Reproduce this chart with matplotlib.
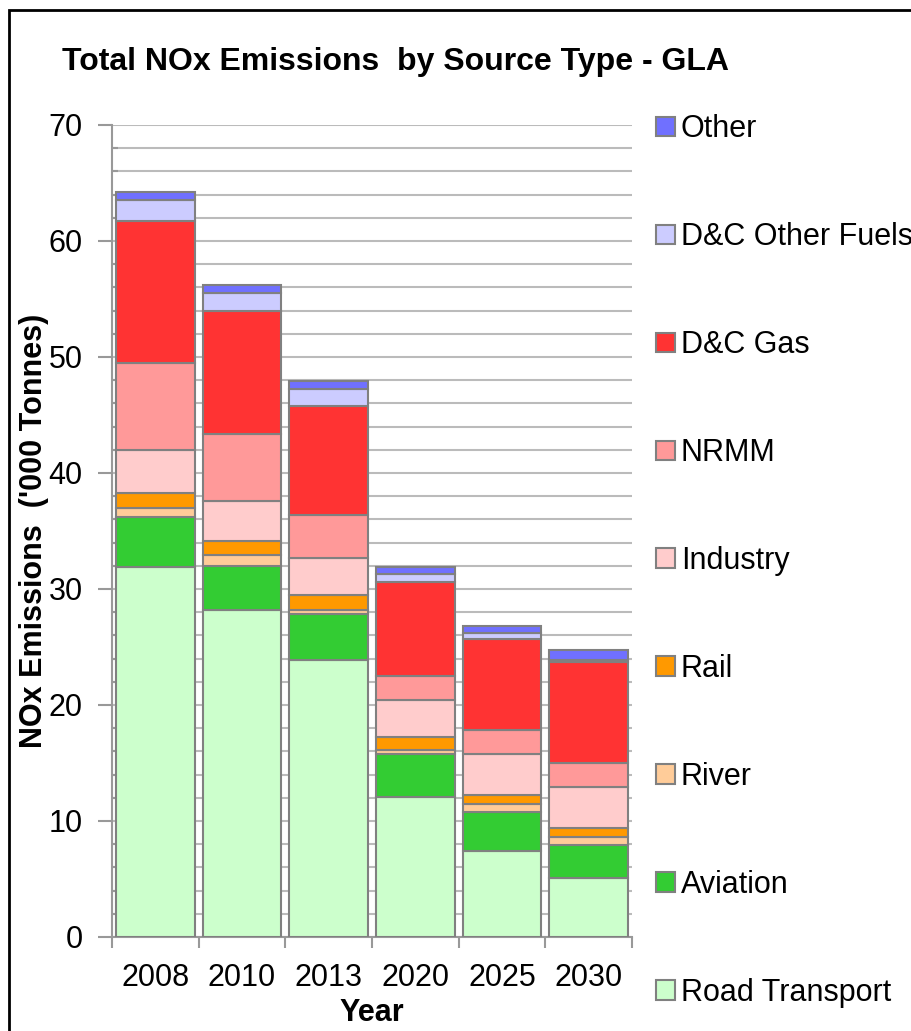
import numpy as np
import matplotlib
matplotlib.use('Agg')
import matplotlib.pyplot as plt
from matplotlib.patches import Rectangle

plt.rcParams['font.family'] = ['Liberation Sans', 'DejaVu Sans']

# data ('000 tonnes)
years = ['2008', '2010', '2013', '2020', '2025', '2030']
sources = ['Road Transport', 'Aviation', 'River', 'Rail', 'Industry', 'NRMM',
           'D&C Gas', 'D&C Other Fuels', 'Other']
road = [31.9, 28.2, 23.9, 12.1, 7.4, 5.1]
aviation = [4.3, 3.8, 3.9, 3.7, 3.4, 2.8]
river = [0.8, 0.9, 0.4, 0.3, 0.7, 0.7]
rail = [1.3, 1.2, 1.3, 1.1, 0.7, 0.8]
industry = [3.7, 3.5, 3.2, 3.2, 3.6, 3.5]
nrmm = [7.5, 5.8, 3.7, 2.1, 2.0, 2.1]
dc_gas = [12.2, 10.6, 9.4, 8.1, 7.9, 8.7]
dc_other = [1.8, 1.5, 1.4, 0.7, 0.5, 0.2]
other = [0.7, 0.7, 0.7, 0.6, 0.6, 0.8]
series = [road, aviation, river, rail, industry, nrmm, dc_gas, dc_other, other]
colors = ['#CCFFCC', '#33CC33', '#FFCC99', '#FF9900', '#FFCCCC', '#FF9999',
          '#FF3333', '#CCCCFF', '#7070FF']

fs = 22
grey = '#999999'

fig = plt.figure(figsize=(9.12, 10.31), dpi=100)
ax = fig.add_axes([0.1228, 0.0912, 0.5702, 0.7876])

x = np.arange(len(years))
bottom = np.zeros(len(years))
handles = []
for vals, c, lab in zip(series, colors, sources):
    b = ax.bar(x, vals, 0.91, bottom=bottom, color=c, edgecolor='#808080',
               linewidth=1.5, label=lab, zorder=3)
    handles.append(b)
    bottom += np.array(vals)

ax.set_xlim(-0.5, len(years) - 0.5)
ax.set_ylim(0, 70)
ax.set_yticks(np.arange(0, 71, 10))
ax.set_yticks(np.arange(0, 71, 2), minor=True)
ax.grid(True, axis='y', which='both', color='#BBBBBB', linewidth=1.5, zorder=0)

ax.set_xticks(x, years)
ax.set_xticks(np.arange(-0.5, len(years)), minor=True)
ax.tick_params(axis='x', which='major', length=0, pad=19, labelsize=fs)
ax.tick_params(axis='x', which='minor', length=8, width=1.5, color=grey)
ax.tick_params(axis='y', which='major', length=10, width=1.5, color=grey,
               labelsize=fs, pad=11)
ax.tick_params(axis='y', which='minor', length=4, width=1.5, color=grey, direction='in')

for s in ['top', 'right']:
    ax.spines[s].set_visible(False)
for s in ['left', 'bottom']:
    ax.spines[s].set_color(grey)
    ax.spines[s].set_linewidth(1.5)

ax.set_ylabel("NOx Emissions  ('000 Tonnes)", fontsize=fs, fontweight='bold', labelpad=0)
ax.set_xlabel('Year', fontsize=fs, fontweight='bold', labelpad=3)

fig.text(62 / 912, 1 - 62 / 1031, 'Total NOx Emissions  by Source Type - GLA',
         fontsize=23, fontweight='bold', va='center', ha='left')

leg = fig.legend(handles[::-1], sources[::-1], loc='upper left',
                 bbox_to_anchor=(0.703, 0.904), frameon=False, fontsize=fs,
                 handlelength=0.6, handleheight=0.6, handletextpad=0.2,
                 labelspacing=2.55, borderpad=0)

# outer frame of the original picture
fig.patches.append(Rectangle((9 / 912, -0.1), 2, 0.9903 + 0.1, transform=fig.transFigure,
                             fill=False, edgecolor='black', linewidth=2))

plt.savefig('out.png', dpi=100)
